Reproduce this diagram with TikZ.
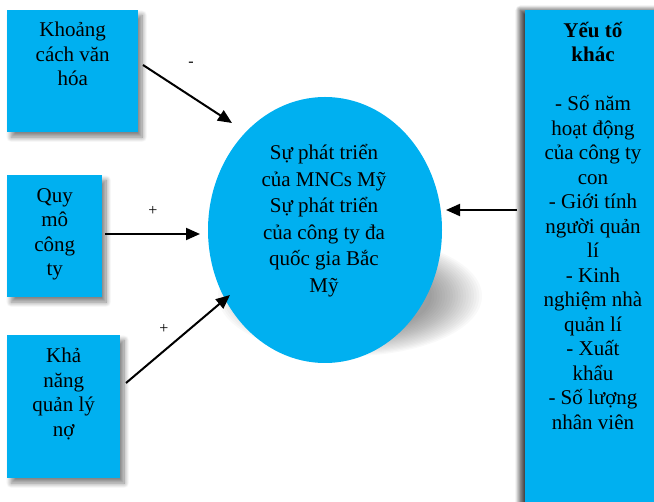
\documentclass[tikz,border=0pt]{standalone}
\usepackage{fontspec}
\setmainfont{Liberation Serif}
\usetikzlibrary{arrows.meta,shadows.blur,shapes.geometric}
\definecolor{boxblue}{HTML}{00B0F0}
\tikzset{
  boxshape/.style={fill=boxblue, draw=none, inner sep=0pt, anchor=north west,
    blur shadow={shadow xshift=4pt, shadow yshift=-5pt, shadow blur steps=10, shadow blur radius=5pt, shadow opacity=50}},
  boxtext/.style={anchor=north, align=center, inner sep=0pt, font=\fontsize{21}{24.5}\selectfont},
  conn/.style={line width=2pt, -{Triangle[length=14pt,width=12pt]}},
  sign/.style={inner sep=1pt, font=\fontsize{16}{18}\selectfont}
}
\begin{document}
\begin{tikzpicture}[x=1pt,y=-1pt]
\useasboundingbox (0,0) rectangle (654,502);
% ellipse shadow
\foreach \s in {1.00,0.98,...,0.60}{
  \fill[black, opacity=0.022] (350,296) ellipse ({132*\s} and {60*\s});
}
\node[ellipse, fill=boxblue, minimum width=234pt, minimum height=266pt, inner sep=0pt] (c) at (325,230) {};
\node[boxtext, font=\fontsize{21}{26.6}\selectfont] (ct) at (324,144) {Sự phát triển\\của MNCs Mỹ\\Sự phát triển\\của công ty đa\\quốc gia Bắc\\Mỹ};

% boxes
\node[boxshape, minimum width=131pt, minimum height=122pt] (b1) at (7,10) {};
\node[boxtext] (t1) at ([yshift=-12pt]b1.north) {Khoảng\\cách văn\\hóa};
\node[boxshape, minimum width=95pt, minimum height=122pt] (b2) at (7,175) {};
\node[boxtext] (t2) at ([yshift=-13pt]b2.north) {Quy\\mô\\công\\ty};
\node[boxshape, minimum width=113pt, minimum height=143pt] (b3) at (7,335) {};
\node[boxtext] (t3) at ([yshift=-13pt]b3.north) {Khả\\năng\\quản lý\\nợ};
\node[boxshape, minimum width=137pt, minimum height=500pt,
  blur shadow={shadow xshift=-5pt, shadow yshift=0pt, shadow blur steps=10, shadow blur radius=5pt, shadow opacity=50}] (b4) at (525,10) {};
\node[boxtext] (t4) at (593,22) {\textbf{Yếu tố}\\\textbf{khác}\\[24.5pt]- Số năm\\hoạt động\\của công ty\\con\\- Giới tính\\người quản\\lí\\- Kinh\\nghiệm nhà\\quản lí\\- Xuất\\khẩu\\- Số lượng\\nhân viên};

% connectors
\coordinate (a1s) at (143,65);
\coordinate (a1e) at (232,123);
\coordinate (a2s) at (105,234);
\coordinate (a2e) at (200,234);
\coordinate (a3s) at (126,383);
\coordinate (a3e) at (230,295);
\coordinate (a4s) at (517,210);
\coordinate (a4e) at (446,210);
\draw[conn] (a1s) -- (a1e);
\draw[conn] (a2s) -- (a2e);
\draw[conn] (a3s) -- (a3e);
\draw[conn] (a4s) -- (a4e);
\node[sign] (s1) at (191,64) {-};
\node[sign] (s2) at (153,211) {+};
\node[sign] (s3) at (164,329) {+};
\end{tikzpicture}
\end{document}
